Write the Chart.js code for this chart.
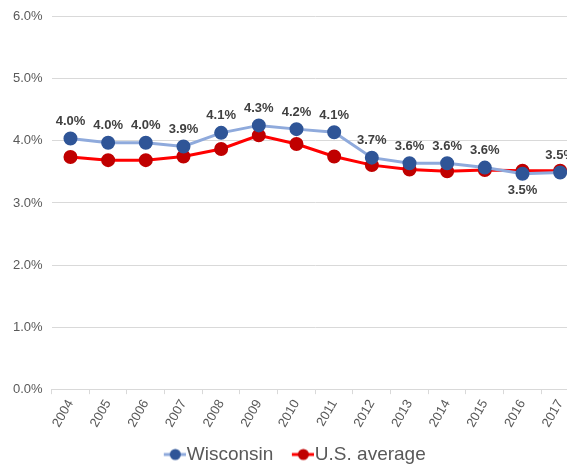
<!DOCTYPE html>
<html>
<head>
<meta charset="utf-8">
<script src="https://cdn.jsdelivr.net/npm/chart.js@4.4.1/dist/chart.umd.min.js"></script>
<style>
  html, body { margin: 0; padding: 0; background: #fff; overflow: hidden; }
  #wrap { width: 600px; height: 476px; }
</style>
</head>
<body>
<div id="wrap"><canvas id="rateChart"></canvas></div>
<script>
// chart data
const years = ['2004', '2005', '2006', '2007', '2008', '2009', '2010', '2011', '2012', '2013', '2014', '2015', '2016', '2017'];
const wisconsin = [4.04, 3.97, 3.97, 3.91, 4.13, 4.25, 4.19, 4.14, 3.73, 3.64, 3.64, 3.57, 3.47, 3.49];
const usAverage = [3.74, 3.69, 3.69, 3.75, 3.87, 4.09, 3.95, 3.75, 3.61, 3.54, 3.51, 3.53, 3.52, 3.52];
const yTicks = [0, 1, 2, 3, 4, 5, 6];

const gridColor = '#d9d9d9';
const textGray = '#595959';
const fontName = '"Liberation Sans", Arial, sans-serif';

// legend symbol: short line with a dot, drawn on the right part of the image
function legendMark(lineColor, dotColor) {
    const c = document.createElement('canvas');
    c.width = 37;
    c.height = 14;
    const g = c.getContext('2d');
    g.strokeStyle = lineColor;
    g.lineWidth = 3;
    g.beginPath();
    g.moveTo(15, 7);
    g.lineTo(37, 7);
    g.stroke();
    g.fillStyle = dotColor;
    g.beginPath();
    g.arc(26.5, 7, 5.5, 0, Math.PI * 2);
    g.fill();
    return c;
}
const marks = [legendMark('#8faadc', '#2f5597'), legendMark('#ff0000', '#c00000')];

// value labels for the Wisconsin line
const labelBelow = [12];
const valueLabels = {
    id: 'valueLabels',
    afterDatasetsDraw(chart) {
        const ctx = chart.ctx;
        const meta = chart.getDatasetMeta(0);
        ctx.save();
        ctx.font = 'bold 13px ' + fontName;
        ctx.fillStyle = '#404040';
        ctx.textAlign = 'center';
        ctx.textBaseline = 'middle';
        meta.data.forEach((pt, i) => {
            const txt = wisconsin[i].toFixed(1) + '%';
            const dy = labelBelow.includes(i) ? 17 : -17;
            ctx.fillText(txt, pt.x, pt.y + dy);
        });
        ctx.restore();
    }
};

const ctx = document.getElementById('rateChart');

new Chart(ctx, {
    type: 'line',
    data: {
        labels: years,
        datasets: [
            {
                label: 'Wisconsin',
                data: wisconsin,
                borderColor: '#8faadc',
                borderWidth: 3,
                backgroundColor: '#2f5597',
                pointBackgroundColor: '#2f5597',
                pointBorderColor: '#2f5597',
                pointRadius: 5.5,
                tension: 0
            },
            {
                label: 'U.S. average',
                data: usAverage,
                borderColor: '#ff0000',
                borderWidth: 3,
                backgroundColor: '#c00000',
                pointBackgroundColor: '#c00000',
                pointBorderColor: '#c00000',
                pointRadius: 5.5,
                tension: 0
            }
        ]
    },
    plugins: [valueLabels],
    options: {
        responsive: true,
        maintainAspectRatio: false,
        animation: false,
        layout: {
            padding: { top: 8, right: 21, left: 4, bottom: 2 }
        },
        plugins: {
            tooltip: { enabled: false },
            legend: {
                position: 'bottom',
                labels: {
                    usePointStyle: true,
                    pointStyleWidth: 20,
                    color: textGray,
                    padding: 12,
                    font: { family: fontName, size: 19 },
                    generateLabels: (chart) => {
                        const items = Chart.defaults.plugins.legend.labels.generateLabels(chart);
                        items.forEach((it, i) => { it.pointStyle = marks[i]; });
                        return items;
                    }
                }
            }
        },
        scales: {
            x: {
                offset: true,
                border: { display: true, color: gridColor },
                grid: {
                    offset: true,
                    drawOnChartArea: false,
                    drawTicks: true,
                    tickLength: 5,
                    color: gridColor
                },
                ticks: {
                    color: textGray,
                    minRotation: 60,
                    maxRotation: 60,
                    padding: 3,
                    font: { family: fontName, size: 13 }
                }
            },
            y: {
                min: 0,
                max: 6,
                afterBuildTicks: (axis) => {
                    axis.ticks = yTicks.map(v => ({ value: v }));
                },
                border: { display: false },
                grid: {
                    color: gridColor,
                    drawTicks: false
                },
                ticks: {
                    color: textGray,
                    padding: 9,
                    callback: (v) => v.toFixed(1) + '%',
                    font: { family: fontName, size: 13 }
                }
            }
        }
    }
});
</script>
</body>
</html>
